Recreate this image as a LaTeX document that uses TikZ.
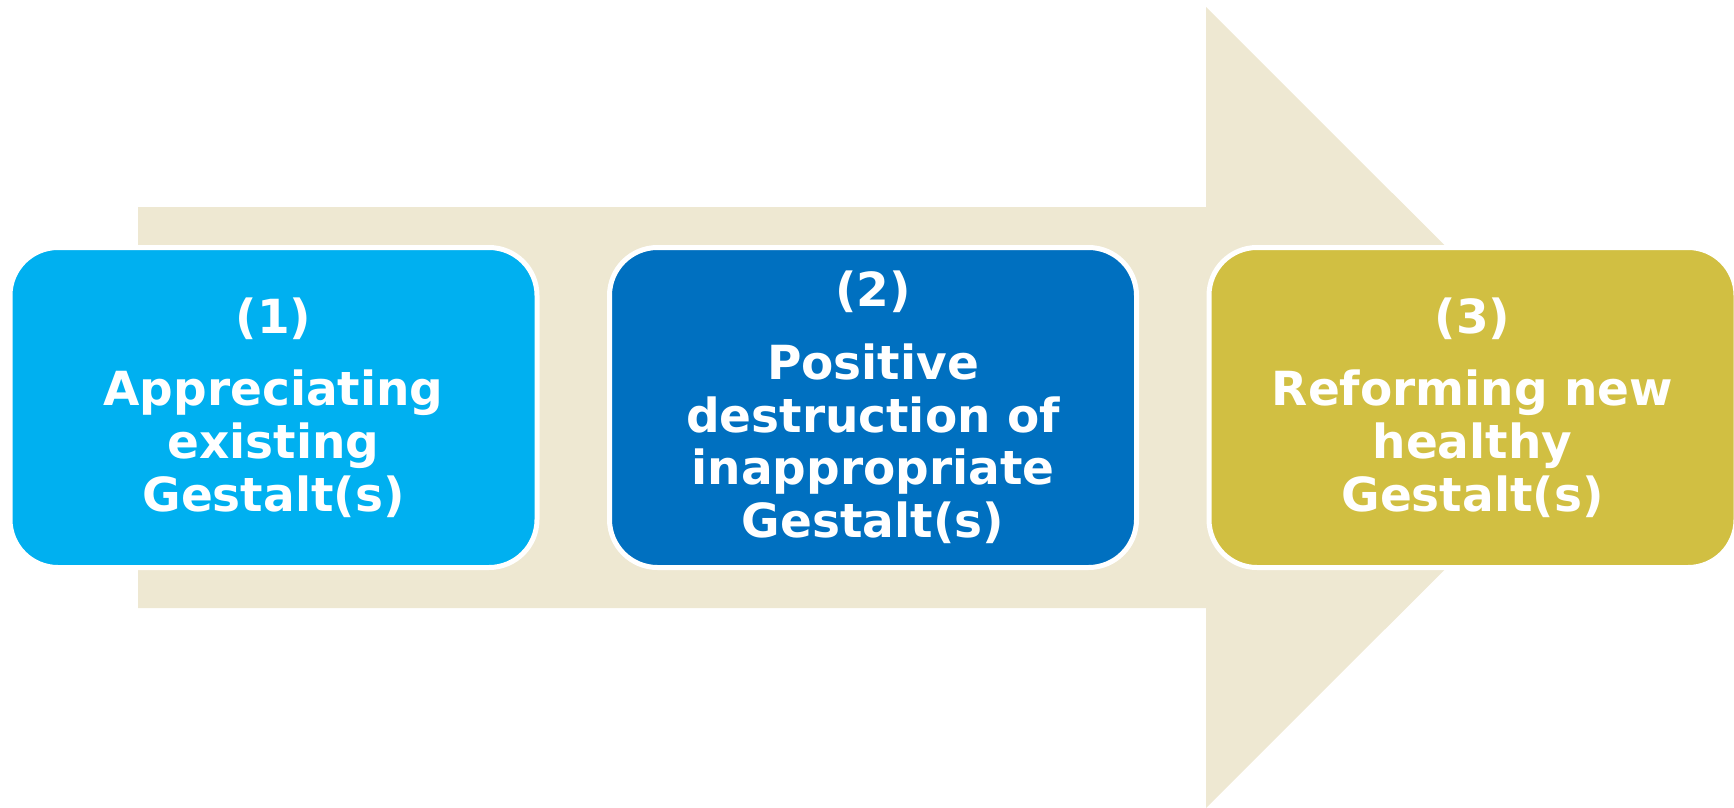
\documentclass[tikz,border=0pt]{standalone}
\usepackage{fontspec}
\setmainfont{DejaVu Sans}
\usetikzlibrary{positioning}
\definecolor{arrowbg}{HTML}{EEE8D2}
\definecolor{stepone}{HTML}{00B0F0}
\definecolor{steptwo}{HTML}{0070C0}
\definecolor{stepthree}{HTML}{D1BF42}
\tikzset{
  stagebox/.style={draw=white, line width=5pt, rounded corners=48pt,
    minimum width=527pt, minimum height=320pt, outer sep=0pt,
    text=white, align=center, font=\fontsize{47pt}{52.7pt}\selectfont\bfseries},
}
\begin{document}
\begin{tikzpicture}[x=1pt, y=-1pt]
  \useasboundingbox (0,0) rectangle (1734,808);
  % big arrow behind the boxes
  \fill[arrowbg] (138,207) -- (1206,207) -- (1206,7) -- (1607,407.5)
    -- (1206,808) -- (1206,608) -- (138,608) -- cycle;
  \node[stagebox, fill=stepone] (appreciate) at (273.5,407.5)
    {(1)\\[20pt]Appreciating\\existing\\Gestalt(s)};
  \node[stagebox, fill=steptwo, right=72.5pt of appreciate] (destroy)
    {(2)\\[20pt]Positive\\destruction of\\inappropriate\\Gestalt(s)};
  \node[stagebox, fill=stepthree, right=72.5pt of destroy] (reform)
    {(3)\\[20pt]Reforming new\\healthy\\Gestalt(s)};
\end{tikzpicture}
\end{document}
